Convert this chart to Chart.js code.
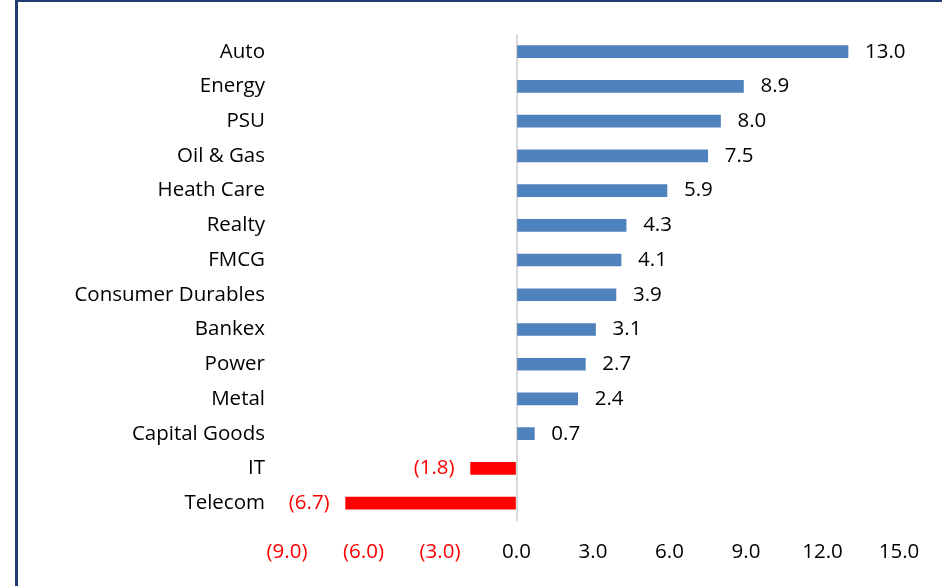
<!DOCTYPE html>
<html>
<head>
<meta charset="utf-8">
<script src="https://cdn.jsdelivr.net/npm/chart.js@4"></script>
<style>
  html, body { margin: 0; padding: 0; width: 942px; height: 586px; overflow: hidden; background: #fff; }
  #frame { position: absolute; left: 15px; top: 0; width: 1000px; height: 700px;
           border-top: 2px solid #1f3a6e; border-left: 3px solid #1f3a6e; }
  #chart { position: absolute; left: 0; top: 0; }
</style>
</head>
<body>
<div id="frame"></div>
<canvas id="chart" width="942" height="586"></canvas>
<script>
const sectors = ['Auto', 'Energy', 'PSU', 'Oil & Gas', 'Heath Care', 'Realty', 'FMCG',
  'Consumer Durables', 'Bankex', 'Power', 'Metal', 'Capital Goods', 'IT', 'Telecom'];
const returns = [13.0, 8.9, 8.0, 7.5, 5.9, 4.3, 4.1, 3.9, 3.1, 2.7, 2.4, 0.7, -1.8, -6.7];
const x_min = -9;
const x_max = 15;
const x_step = 3;

const blue = '#4f81bd';
const red = '#ff0000';
const font_family = '"Open Sans", sans-serif';
const font_size = 20.5;

function fmt(v) {
  return v < 0 ? `(${Math.abs(v).toFixed(1)})` : v.toFixed(1);
}

// value labels at the bar ends
const barLabels = {
  id: 'barLabels',
  afterDatasetsDraw(chart) {
    const ctx = chart.ctx;
    const meta = chart.getDatasetMeta(0);
    ctx.save();
    ctx.font = `${font_size}px ${font_family}`;
    ctx.textBaseline = 'middle';
    meta.data.forEach((bar, i) => {
      const v = returns[i];
      if (v < 0) {
        ctx.fillStyle = red;
        ctx.textAlign = 'right';
        ctx.fillText(fmt(v), bar.x - 16, bar.y);
      } else {
        ctx.fillStyle = '#000';
        ctx.textAlign = 'left';
        ctx.fillText(fmt(v), bar.x + 17, bar.y);
      }
    });
    ctx.restore();
  }
};

new Chart(document.querySelector('#chart'), {
  type: 'bar',
  data: {
    labels: sectors,
    datasets: [{
      data: returns,
      backgroundColor: returns.map(v => v < 0 ? red : blue),
      barThickness: 12,
      borderWidth: 0
    }]
  },
  options: {
    indexAxis: 'y',
    responsive: false,
    animation: false,
    layout: { padding: { top: 30, right: 43, left: 0, bottom: 0 } },
    plugins: {
      legend: { display: false },
      tooltip: { enabled: false }
    },
    scales: {
      x: {
        min: x_min,
        max: x_max,
        border: { display: false },
        grid: {
          drawTicks: false,
          lineWidth: 2,
          color: ctx => (ctx.tick && ctx.tick.value === 0) ? '#d9d9d9' : 'transparent'
        },
        ticks: {
          stepSize: x_step,
          padding: 19,
          maxRotation: 0,
          font: { family: font_family, size: font_size },
          color: ctx => ctx.tick.value < 0 ? red : '#000',
          callback: v => fmt(v)
        },
        afterFit: scale => { scale.height = 65.5; }
      },
      y: {
        border: { display: false },
        grid: { display: false, drawTicks: false },
        ticks: {
          padding: 22,
          font: { family: font_family, size: font_size },
          color: '#000'
        },
        afterFit: scale => { scale.width = 287; }
      }
    }
  },
  plugins: [barLabels]
});
</script>
</body>
</html>
